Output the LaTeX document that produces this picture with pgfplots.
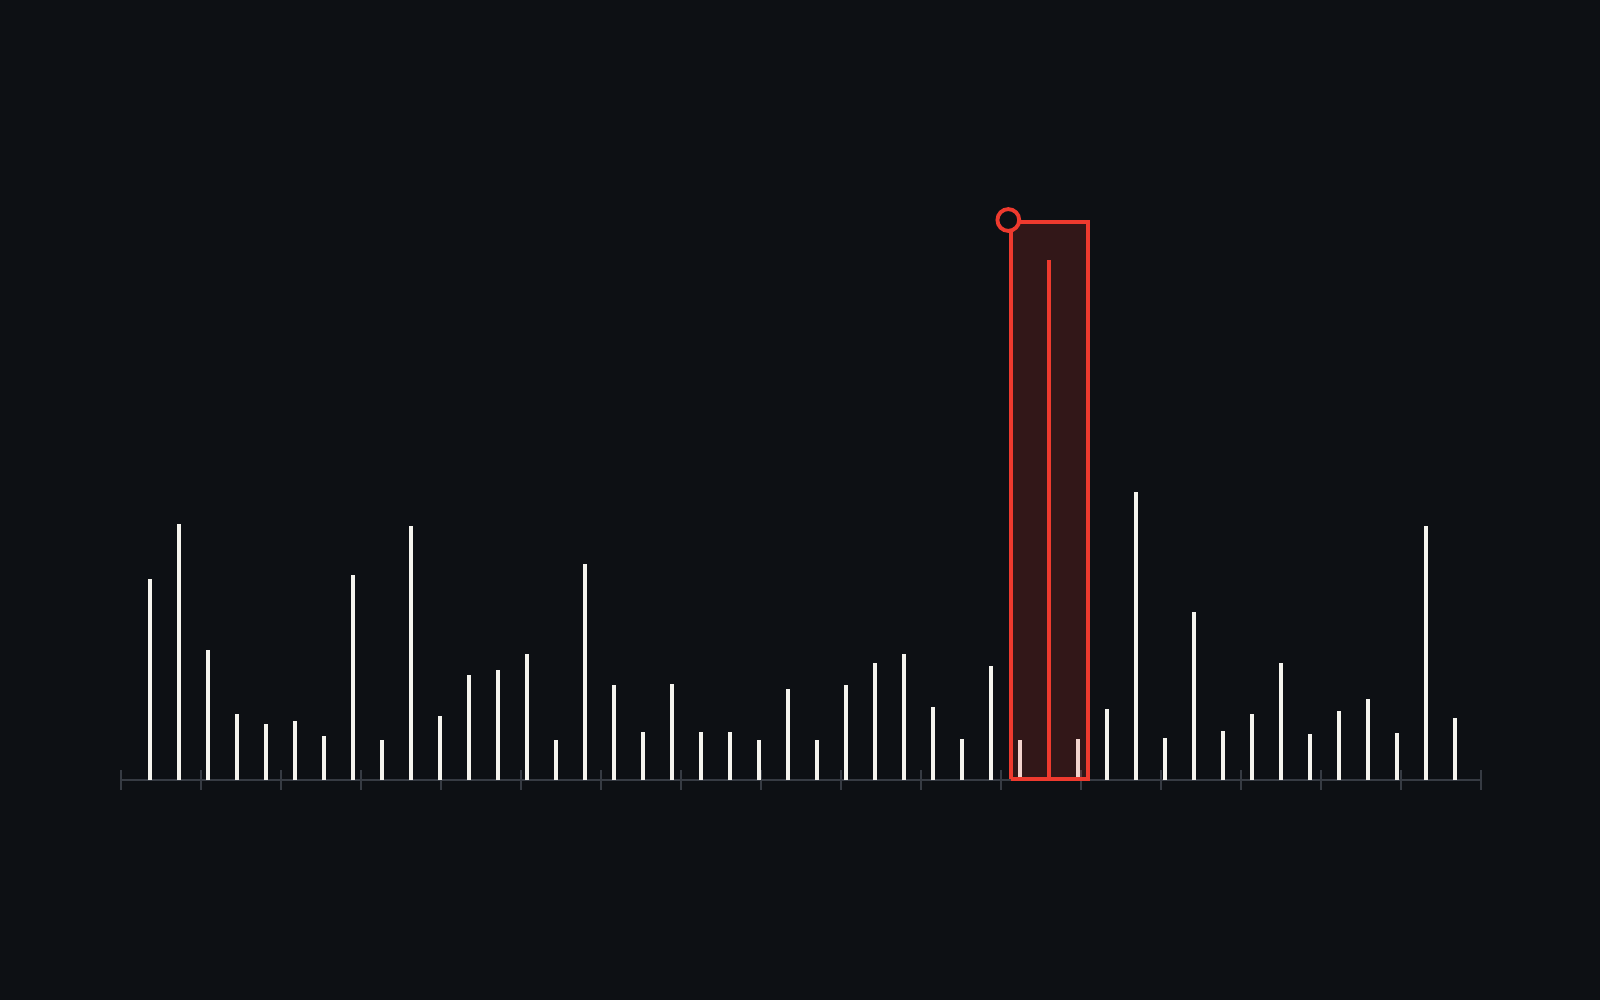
\documentclass[border=0pt]{standalone}
\usepackage{pgfplots}
\pgfplotsset{compat=1.18}
\usepackage{pgfplotstable}
\definecolor{bg}{HTML}{0D1014}
\definecolor{stem}{HTML}{F5F4EE}
\definecolor{hot}{HTML}{EE3A2E}
\definecolor{rail}{HTML}{363B43}

% stem position (px from left) and height (px above the base line)
\pgfplotstableread{
x h
150 201
179 255.7
208 129.7
237 65.7
266 55.7
295 59
324 44
353 205
382 40
411 254
440 64
469 104.7
498 109.7
527 126.3
556 40
585 215.7
614 95
643 48
672 95.7
701 48
730 48
759 40
788 91
817 40
846 95
875 117
904 126
933 72.7
962 40.7
991 113.7
1020 40
1078 41
1107 70.7
1136 288
1165 42
1194 168
1223 49
1252 65.7
1281 116.7
1310 45.7
1339 69
1368 81
1397 47
1426 254
1455 62
}\stems

\begin{document}
\begin{tikzpicture}
\begin{axis}[
	scale only axis,
	width=16cm, height=10cm,
	xmin=0, xmax=1600,
	ymin=-220, ymax=780,
	axis lines=none,
	clip=false,
]
% background
\fill[bg] (axis cs:0,-220) rectangle (axis cs:1600,780);
% base line and ticks
\addplot[rail, line width=0.65pt, no marks] coordinates {(120.7,0) (1480.7,0)};
\foreach \t in {0,...,17} {
	\edef\tmp{\noexpand\draw[rail, line width=0.65pt] (axis cs:{120.7+80*\t},-10) -- (axis cs:{120.7+80*\t},10);}
	\tmp
}
% stems
\addplot[ycomb, stem, line width=0.95pt, no marks] table[x=x, y=h] {\stems};
% highlighted window
\addplot[draw=none, fill=hot, fill opacity=0.17] coordinates {(1010.7,1.3) (1088,1.3) (1088,558.3) (1010.7,558.3)} \closedcycle;
\addplot[ycomb, hot, line width=0.95pt, no marks] coordinates {(1049,520)};
\addplot[hot, line width=1.05pt, no marks] coordinates {(1010.7,1.3) (1088,1.3) (1088,558.3) (1010.7,558.3) (1010.7,1.3)};
\addplot[only marks, mark=*, mark size=3.1pt, mark options={draw=hot, fill=bg, line width=1.1pt}] coordinates {(1008.3,560)};
\end{axis}
\end{tikzpicture}
\end{document}
